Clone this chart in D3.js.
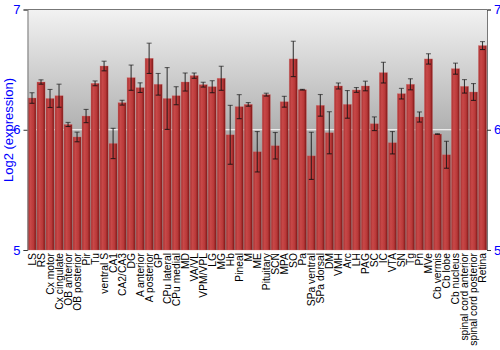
<!DOCTYPE html>
<html><head><meta charset="utf-8">
<script src="https://cdn.jsdelivr.net/npm/d3@7"></script>
<style>body{margin:0;background:#fff}svg{display:block}text{font-family:"Liberation Sans",Arial,sans-serif}</style>
</head><body><svg id="c" width="500" height="350"></svg>
<script>
const categories = ["LS","RS","Cx motor","Cx cingulate","OB anterior","OB posterior","Pir","Tu","ventral S","CA1","CA2/CA3","DG","A anterior","A posterior","GP","CPu lateral","CPu medial","MD","VA/VL","VPM/VPL","LG","MG","Hb","Pineal","M","ME","Pituitary","SCN","MPA","SO","Pa","SPa ventral","SPa dorsal","DM","VMH","Arc","LH","PAG","SC","IC","VTA","SN","Tg","Pn","MVe","Cb vermis","Cb lobe","Cb nucleus","spinal cord anterior","spinal cord posterior","Retina"];
const values = [6.264,6.397,6.26,6.283,6.044,5.94,6.114,6.386,6.53,5.886,6.225,6.433,6.35,6.594,6.378,6.26,6.283,6.397,6.45,6.375,6.358,6.428,5.958,6.192,6.211,5.817,6.292,5.867,6.233,6.589,6.333,5.783,6.203,5.975,6.364,6.211,6.331,6.364,6.05,6.475,5.892,6.3,6.378,6.106,6.589,5.964,5.792,6.508,6.361,6.314,6.7];
const errors = [0.044,0.018,0.075,0.096,0.017,0.04,0.055,0.02,0.04,0.126,0.02,0.105,0.04,0.126,0.09,0.257,0.075,0.075,0.022,0.02,0.05,0.1,0.245,0.1,0.015,0.168,0.012,0.11,0.045,0.147,0.003,0.196,0.09,0.175,0.025,0.115,0.02,0.04,0.057,0.086,0.093,0.044,0.046,0.042,0.043,0.002,0.112,0.046,0.056,0.07,0.033];
const yTicks = [5,6,7];

const svg = d3.select("#c");
const L = 27.5, R = 487, T = 9.5, B = 250;
const x = d3.scaleBand().domain(categories).range([L, R]).paddingInner(0.1).paddingOuter(0.05);
const y = d3.scaleLinear().domain([5,7]).range([B, T]);

const defs = svg.append("defs");
const bg = defs.append("linearGradient").attr("id","bg").attr("x1",0).attr("y1",0).attr("x2",0).attr("y2",1);
bg.append("stop").attr("offset","0%").attr("stop-color","#f2f2f2");
bg.append("stop").attr("offset","100%").attr("stop-color","#6e6e6e");
const bar = defs.append("linearGradient").attr("id","bar").attr("x1",0).attr("y1",0).attr("x2",1).attr("y2",0);
bar.append("stop").attr("offset","0%").attr("stop-color","#a83030");
bar.append("stop").attr("offset","30%").attr("stop-color","#c84848");
bar.append("stop").attr("offset","70%").attr("stop-color","#b83838");
bar.append("stop").attr("offset","100%").attr("stop-color","#7a1414");

svg.append("rect").attr("x",L).attr("y",T).attr("width",R-L).attr("height",B-T).attr("fill","url(#bg)");
// grid
svg.append("g").selectAll("line").data([6]).join("line")
  .attr("x1",L).attr("x2",R).attr("y1",d=>y(d)).attr("y2",d=>y(d))
  .attr("stroke","#ffffff").attr("stroke-width",1.2);

// bars
svg.append("g").selectAll("rect").data(categories).join("rect")
  .attr("x",d=>x(d)).attr("width",x.bandwidth())
  .attr("y",(d,i)=>y(values[i])).attr("height",(d,i)=>B-y(values[i]))
  .attr("fill","url(#bar)").attr("stroke","#d87070").attr("stroke-opacity",0.5).attr("stroke-width",0.6);

// error bars
const eg = svg.append("g").attr("stroke","#111").attr("stroke-width",1.1);
categories.forEach((c,i)=>{
  const cx = x(c)+x.bandwidth()/2, y1 = y(values[i]+errors[i]), y2 = y(values[i]-errors[i]);
  eg.append("line").attr("x1",cx).attr("x2",cx).attr("y1",y1).attr("y2",y2).attr("stroke-opacity",0.8);
  eg.append("line").attr("x1",cx-2.5).attr("x2",cx+2.5).attr("y1",y1).attr("y2",y1).attr("stroke-opacity",0.6);
  eg.append("line").attr("x1",cx-2.5).attr("x2",cx+2.5).attr("y1",y2).attr("y2",y2).attr("stroke-opacity",0.8);
});

// frame
svg.append("line").attr("x1",L).attr("x2",R).attr("y1",T).attr("y2",T).attr("stroke","#777");
const ya = d3.axisLeft(y).tickValues(yTicks).tickFormat(d3.format("d")).tickSize(4);
const yb = d3.axisRight(y).tickValues(yTicks).tickFormat(d3.format("d")).tickSize(4);
const gl = svg.append("g").attr("transform",`translate(${L},0)`).call(ya);
const gr = svg.append("g").attr("transform",`translate(${R},0)`).call(yb);
[gl,gr].forEach(g=>{
  g.select(".domain").attr("stroke","#777");
  g.selectAll(".tick line").attr("stroke","#333");
  g.selectAll(".tick text").attr("fill","#0000ff").attr("font-size",13).attr("font-family","Liberation Sans, Arial, sans-serif");
});

svg.append("text").attr("transform","translate(13,130) rotate(-90)").attr("text-anchor","middle")
  .attr("fill","#0000ff").attr("font-size",13).text("Log2 (expression)");

// category labels
svg.append("g").selectAll("text").data(categories).join("text")
  .attr("transform",d=>`translate(${x(d)+x.bandwidth()/2+3.8},253) rotate(-90)`)
  .attr("text-anchor","end").attr("font-size",10.3).attr("fill","#000").text(d=>d);
</script></body></html>
